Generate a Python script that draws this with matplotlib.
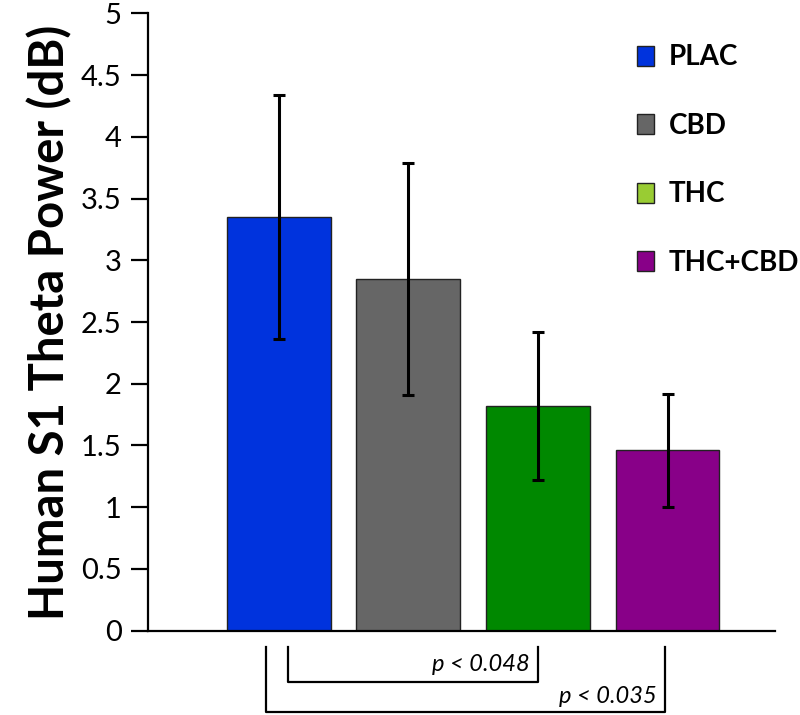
import matplotlib
matplotlib.use("Agg")
import matplotlib.pyplot as plt
from matplotlib.patches import Patch

plt.rcParams['font.family'] = ['Lato', 'DejaVu Sans']

categories = ["PLAC", "CBD", "THC", "THC+CBD"]
means = [3.35, 2.85, 1.82, 1.46]
errors = [0.99, 0.94, 0.60, 0.46]
bar_colors = ["#0033DD", "#666666", "#008800", "#880088"]
legend_colors = ["#0033DD", "#666666", "#99CC33", "#880088"]
yticks = [0, 0.5, 1, 1.5, 2, 2.5, 3, 3.5, 4, 4.5, 5]
ytick_labels = ["0", "0.5", "1", "1.5", "2", "2.5", "3", "3.5", "4", "4.5", "5"]
# significance brackets: (left bar, right bar, label)
comparisons = [(0.07, 2.0, "p < 0.048"), (-0.10, 2.98, "p < 0.035")]

fig = plt.figure(figsize=(8, 7.15), dpi=100)
ax = fig.add_axes([0.185, 0.1179, 0.784, 0.8635])

x = list(range(len(categories)))
ax.bar(x, means, width=0.80, color=bar_colors, edgecolor="#222222", linewidth=1.0,
       yerr=errors, error_kw=dict(ecolor="black", elinewidth=2.2, capsize=4, capthick=2.2),
       zorder=2)

ax.set_xlim(-1.008, 3.83)
ax.set_ylim(0, 5)
ax.set_yticks(yticks)
ax.set_yticklabels(ytick_labels, fontsize=21)
ax.set_xticks([])
for s in ["top", "right"]:
    ax.spines[s].set_visible(False)
ax.spines["left"].set_linewidth(1.6)
ax.spines["bottom"].set_linewidth(1.6)
ax.tick_params(axis="y", direction="out", length=12, width=1.6, pad=7)
ax.set_ylabel("Human S1 Theta Power (dB)", fontsize=34, fontweight="bold", labelpad=6)

# legend
handles = [Patch(facecolor=c, edgecolor="#222222", linewidth=1.0) for c in legend_colors]
leg = ax.legend(handles, categories, loc="upper left", bbox_to_anchor=(0.74, 0.99),
                frameon=False, handlelength=0.6, handleheight=0.75, handletextpad=0.55,
                labelspacing=1.53, prop=dict(size=20, weight="bold"))

# significance brackets below the axis
top_y = -0.132
bottoms = [-0.415, -0.658]
text_y = [-0.275, -0.53]
for (l, r, lab), yb, ty in zip(comparisons, bottoms, text_y):
    ax.plot([l, l, r, r], [top_y, yb, yb, top_y], color="black", lw=1.6, clip_on=False)
    ax.text(r - 0.06, ty, lab, ha="right", va="center", fontsize=17, style="italic",
            clip_on=False)

fig.savefig("out.png", dpi=100)
